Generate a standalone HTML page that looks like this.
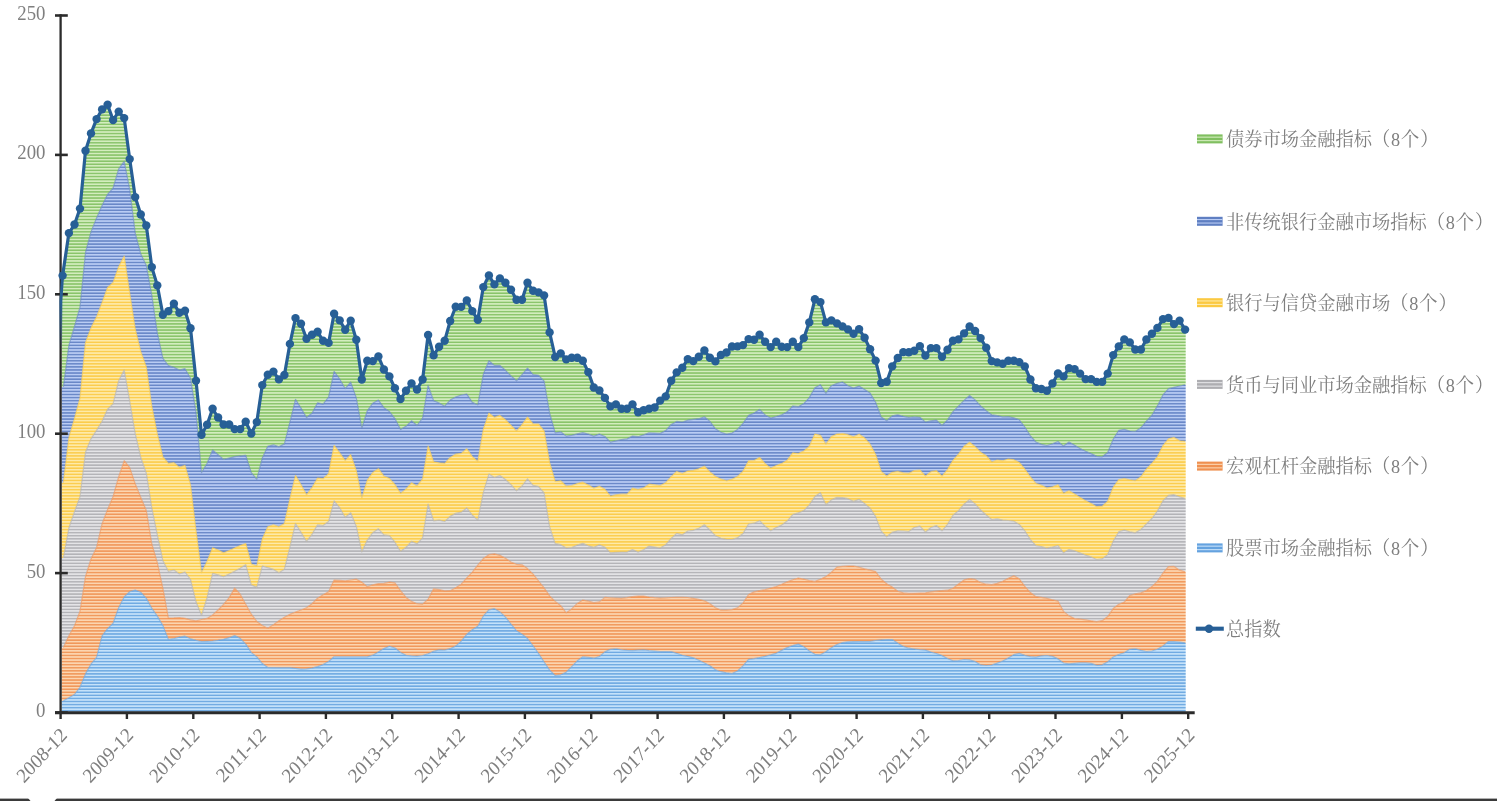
<!DOCTYPE html>
<html lang="zh-CN">
<head>
<meta charset="utf-8">
<title>金融指标总指数</title>
<style>
html,body{margin:0;padding:0;background:#fff;}
body{width:1497px;height:801px;overflow:hidden;position:relative;}
svg{display:block;position:absolute;left:0;top:0;}
.num{font-family:"Liberation Serif","Noto Serif CJK SC",serif;font-size:20.1px;fill:#7f7f7f;}
.xl{font-family:"Liberation Serif","Noto Serif CJK SC",serif;font-size:20.2px;fill:#7f7f7f;}
.lg{font-family:"Liberation Serif","Noto Serif CJK SC",serif;font-size:19.5px;fill:#7f7f7f;}
</style>
</head>
<body>
<svg width="1497" height="801" viewBox="0 0 1497 801">
<defs><pattern id="p-b1" width="8" height="3.07" patternUnits="userSpaceOnUse"><rect width="8" height="3.07" fill="#c5e2fa"/><rect y="0.9" width="8" height="1.32" fill="#64a2df"/></pattern><pattern id="p-or" width="8" height="3.07" patternUnits="userSpaceOnUse"><rect width="8" height="3.07" fill="#fcd5b0"/><rect y="0.9" width="8" height="1.32" fill="#ef9050"/></pattern><pattern id="p-gy" width="8" height="3.07" patternUnits="userSpaceOnUse"><rect width="8" height="3.07" fill="#e4e4e7"/><rect y="0.9" width="8" height="1.32" fill="#adadb1"/></pattern><pattern id="p-yl" width="8" height="3.07" patternUnits="userSpaceOnUse"><rect width="8" height="3.07" fill="#feeaa8"/><rect y="0.9" width="8" height="1.32" fill="#fbc941"/></pattern><pattern id="p-b2" width="8" height="3.07" patternUnits="userSpaceOnUse"><rect width="8" height="3.07" fill="#b9ccf4"/><rect y="0.9" width="8" height="1.32" fill="#5f7fc2"/></pattern><pattern id="p-gr" width="8" height="3.07" patternUnits="userSpaceOnUse"><rect width="8" height="3.07" fill="#d3edbe"/><rect y="0.9" width="8" height="1.32" fill="#80bf60"/></pattern><linearGradient id="leadg" gradientUnits="userSpaceOnUse" x1="0" y1="275" x2="0" y2="350"><stop offset="0" stop-color="#275f96" stop-opacity="1"/><stop offset="0.36" stop-color="#275f96" stop-opacity="1"/><stop offset="1" stop-color="#275f96" stop-opacity="0"/></linearGradient><filter id="soft" x="0" y="0" width="1497" height="801" filterUnits="userSpaceOnUse"><feGaussianBlur stdDeviation="0.5"/></filter></defs>
<rect width="1497" height="801" fill="#fff"/>
<g id="areas" filter="url(#soft)">
<path d="M61.6,700.8 L63.4,700.8 L68.9,697.8 L74.5,694.5 L80,687.3 L85.5,673.9 L91,664.1 L96.6,657.3 L102.1,635.9 L107.6,628.6 L113.1,623.3 L118.7,607.8 L124.2,596.9 L129.7,591.7 L135.2,590.1 L140.8,592.3 L146.3,598.4 L151.8,608.4 L157.3,616.1 L162.9,625.6 L168.4,639.5 L173.9,638.5 L179.4,637.1 L185,636.2 L190.5,638.8 L196,640.3 L201.5,641.5 L207.1,641.3 L212.6,641 L218.1,640.3 L223.6,639.3 L229.2,637.7 L234.7,635.5 L240.2,638.4 L245.7,644.2 L251.3,652.6 L256.8,656.9 L262.3,663.6 L267.8,667.5 L273.4,667.6 L278.9,667.7 L284.4,667.7 L289.9,667.7 L295.5,668.3 L301,669.1 L306.5,668.9 L312,668.2 L317.6,666.6 L323.1,664.6 L328.6,661.5 L334.1,656.8 L339.7,656.8 L345.2,656.8 L350.7,656.8 L356.3,656.8 L361.8,656.8 L367.3,656.8 L372.8,655.2 L378.4,651.9 L383.9,648.6 L389.4,646.3 L394.9,648 L400.5,652.5 L406,655.3 L411.5,655.8 L417,656.1 L422.6,655.5 L428.1,653.7 L433.6,651.4 L439.1,649.9 L444.7,650.2 L450.2,648.7 L455.7,646.1 L461.2,641.2 L466.8,634.3 L472.3,629.8 L477.8,626.2 L483.3,616.2 L488.9,609.9 L494.4,608.7 L499.9,611.9 L505.4,617.1 L511,624.2 L516.5,630.8 L522,634.2 L527.5,638.5 L533.1,646 L538.6,653.6 L544.1,662 L549.6,670.1 L555.2,675.5 L560.7,674.8 L566.2,672.2 L571.7,666.7 L577.3,660.8 L582.8,656.8 L588.3,657.4 L593.8,658.2 L599.4,656.5 L604.9,651.9 L610.4,649.4 L615.9,648.8 L621.5,649.8 L627,650.3 L632.5,650.6 L638.1,650.2 L643.6,649.9 L649.1,650.6 L654.6,651.1 L660.2,651.5 L665.7,651.6 L671.2,651.7 L676.7,653.3 L682.3,655.3 L687.8,656.3 L693.3,657.8 L698.8,660.2 L704.4,663 L709.9,665.8 L715.4,669.8 L720.9,671.7 L726.5,672.8 L732,673.5 L737.5,671 L743,665.9 L748.6,659.3 L754.1,658.7 L759.6,657.5 L765.1,656.3 L770.7,654.9 L776.2,653.3 L781.7,650.4 L787.2,647.6 L792.8,645.6 L798.3,644.1 L803.8,646.8 L809.3,650.9 L814.9,654.3 L820.4,654.8 L825.9,651.7 L831.4,647.7 L837,644.5 L842.5,642.5 L848,641.8 L853.5,641.6 L859.1,641.5 L864.6,641.5 L870.1,641.4 L875.6,640.5 L881.2,639.9 L886.7,639.5 L892.2,639.5 L897.8,643.2 L903.3,646.4 L908.8,648.2 L914.3,649 L919.9,649.7 L925.4,650.1 L930.9,652.1 L936.4,653.5 L942,655.6 L947.5,658.5 L953,660.9 L958.5,660.5 L964.1,659.5 L969.6,659.9 L975.1,661.5 L980.6,664.9 L986.2,665.5 L991.7,665 L997.2,663.1 L1002.7,661 L1008.3,658.1 L1013.8,654.7 L1019.3,653.4 L1024.8,655.4 L1030.4,656.7 L1035.9,657.1 L1041.4,655.9 L1046.9,655.5 L1052.5,656.4 L1058,658.9 L1063.5,663 L1069,663.9 L1074.6,663.3 L1080.1,662.9 L1085.6,662.9 L1091.1,663.4 L1096.7,665.3 L1102.2,664.9 L1107.7,661.9 L1113.2,657 L1118.8,654.5 L1124.3,652.8 L1129.8,649.3 L1135.3,648.8 L1140.9,650.3 L1146.4,651.5 L1151.9,651 L1157.4,649.3 L1163,645.9 L1168.5,641.5 L1174,641.6 L1179.6,642.1 L1185.1,642.8 L1185.7,642.8 L1185.7,712.3 L61.6,712.3 Z" fill="url(#p-b1)"/>
<path d="M61.6,647.4 L63.4,647.4 L68.9,635.7 L74.5,625.8 L80,611.1 L85.5,576.5 L91,559 L96.6,547.4 L102.1,523.7 L107.6,509.5 L113.1,496.5 L118.7,476.6 L124.2,460.7 L129.7,467.6 L135.2,483.7 L140.8,497.4 L146.3,510.6 L151.8,544 L157.3,562.6 L162.9,588.3 L168.4,618.1 L173.9,617.9 L179.4,617.5 L185,618.3 L190.5,619.9 L196,620.8 L201.5,619.5 L207.1,618.4 L212.6,614.9 L218.1,610 L223.6,604.4 L229.2,597.6 L234.7,588.1 L240.2,594.2 L245.7,604.2 L251.3,614.2 L256.8,621.4 L262.3,625.5 L267.8,628.2 L273.4,624.7 L278.9,620.8 L284.4,617.3 L289.9,614.4 L295.5,612 L301,610 L306.5,607.8 L312,603.7 L317.6,598.2 L323.1,594.8 L328.6,591.7 L334.1,580.1 L339.7,580.4 L345.2,580.8 L350.7,580 L356.3,579.2 L361.8,582.1 L367.3,586.8 L372.8,584.8 L378.4,583.7 L383.9,583.4 L389.4,582.1 L394.9,582.9 L400.5,590.7 L406,597.4 L411.5,601.4 L417,603.7 L422.6,604.1 L428.1,599.2 L433.6,588.8 L439.1,589.7 L444.7,590.8 L450.2,590.7 L455.7,587.8 L461.2,584.2 L466.8,577.8 L472.3,572.1 L477.8,565.2 L483.3,558.6 L488.9,554.7 L494.4,553.9 L499.9,555.3 L505.4,558.2 L511,562 L516.5,564.3 L522,564.8 L527.5,568.6 L533.1,574.1 L538.6,581 L544.1,587.9 L549.6,595.8 L555.2,601.4 L560.7,605.7 L566.2,612.8 L571.7,608.9 L577.3,603.4 L582.8,600.1 L588.3,601.2 L593.8,602.7 L599.4,601.9 L604.9,597.4 L610.4,597.8 L615.9,598.1 L621.5,598.3 L627,597.7 L632.5,596.7 L638.1,596.1 L643.6,596.1 L649.1,597 L654.6,597.7 L660.2,598.1 L665.7,597.8 L671.2,597.5 L676.7,597.4 L682.3,597.4 L687.8,597.5 L693.3,598.3 L698.8,599.4 L704.4,600.8 L709.9,603.7 L715.4,607.7 L720.9,610.1 L726.5,610.1 L732,609.6 L737.5,607.9 L743,603.1 L748.6,594.5 L754.1,591.9 L759.6,590.7 L765.1,589.5 L770.7,588.1 L776.2,586.5 L781.7,584.3 L787.2,581.9 L792.8,579.7 L798.3,578 L803.8,579.1 L809.3,580.5 L814.9,581.4 L820.4,579.3 L825.9,576.6 L831.4,572.2 L837,567.1 L842.5,566.4 L848,566 L853.5,566 L859.1,567.2 L864.6,568.9 L870.1,570.2 L875.6,571.6 L881.2,579.2 L886.7,583.8 L892.2,587 L897.8,591.2 L903.3,592.9 L908.8,593.4 L914.3,593.3 L919.9,593 L925.4,592.8 L930.9,591.9 L936.4,591.2 L942,590.7 L947.5,590.2 L953,588.3 L958.5,584.1 L964.1,579.9 L969.6,578.7 L975.1,579.4 L980.6,582.5 L986.2,584.2 L991.7,584.7 L997.2,583.4 L1002.7,581.2 L1008.3,578.4 L1013.8,575.9 L1019.3,578.8 L1024.8,586.3 L1030.4,592.6 L1035.9,596.7 L1041.4,597.4 L1046.9,598.4 L1052.5,599.8 L1058,601.2 L1063.5,611.4 L1069,615.9 L1074.6,618.6 L1080.1,619.2 L1085.6,619.9 L1091.1,620.8 L1096.7,621.7 L1102.2,620.7 L1107.7,616.6 L1113.2,608.6 L1118.8,604.3 L1124.3,602.1 L1129.8,595.5 L1135.3,593.9 L1140.9,592.9 L1146.4,590.5 L1151.9,586.6 L1157.4,581.4 L1163,573 L1168.5,566.7 L1174,566.4 L1179.6,570.2 L1185.1,571.8 L1185.7,571.8 L1185.7,642.8 L1185.1,642.8 L1179.6,642.1 L1174,641.6 L1168.5,641.5 L1163,645.9 L1157.4,649.3 L1151.9,651 L1146.4,651.5 L1140.9,650.3 L1135.3,648.8 L1129.8,649.3 L1124.3,652.8 L1118.8,654.5 L1113.2,657 L1107.7,661.9 L1102.2,664.9 L1096.7,665.3 L1091.1,663.4 L1085.6,662.9 L1080.1,662.9 L1074.6,663.3 L1069,663.9 L1063.5,663 L1058,658.9 L1052.5,656.4 L1046.9,655.5 L1041.4,655.9 L1035.9,657.1 L1030.4,656.7 L1024.8,655.4 L1019.3,653.4 L1013.8,654.7 L1008.3,658.1 L1002.7,661 L997.2,663.1 L991.7,665 L986.2,665.5 L980.6,664.9 L975.1,661.5 L969.6,659.9 L964.1,659.5 L958.5,660.5 L953,660.9 L947.5,658.5 L942,655.6 L936.4,653.5 L930.9,652.1 L925.4,650.1 L919.9,649.7 L914.3,649 L908.8,648.2 L903.3,646.4 L897.8,643.2 L892.2,639.5 L886.7,639.5 L881.2,639.9 L875.6,640.5 L870.1,641.4 L864.6,641.5 L859.1,641.5 L853.5,641.6 L848,641.8 L842.5,642.5 L837,644.5 L831.4,647.7 L825.9,651.7 L820.4,654.8 L814.9,654.3 L809.3,650.9 L803.8,646.8 L798.3,644.1 L792.8,645.6 L787.2,647.6 L781.7,650.4 L776.2,653.3 L770.7,654.9 L765.1,656.3 L759.6,657.5 L754.1,658.7 L748.6,659.3 L743,665.9 L737.5,671 L732,673.5 L726.5,672.8 L720.9,671.7 L715.4,669.8 L709.9,665.8 L704.4,663 L698.8,660.2 L693.3,657.8 L687.8,656.3 L682.3,655.3 L676.7,653.3 L671.2,651.7 L665.7,651.6 L660.2,651.5 L654.6,651.1 L649.1,650.6 L643.6,649.9 L638.1,650.2 L632.5,650.6 L627,650.3 L621.5,649.8 L615.9,648.8 L610.4,649.4 L604.9,651.9 L599.4,656.5 L593.8,658.2 L588.3,657.4 L582.8,656.8 L577.3,660.8 L571.7,666.7 L566.2,672.2 L560.7,674.8 L555.2,675.5 L549.6,670.1 L544.1,662 L538.6,653.6 L533.1,646 L527.5,638.5 L522,634.2 L516.5,630.8 L511,624.2 L505.4,617.1 L499.9,611.9 L494.4,608.7 L488.9,609.9 L483.3,616.2 L477.8,626.2 L472.3,629.8 L466.8,634.3 L461.2,641.2 L455.7,646.1 L450.2,648.7 L444.7,650.2 L439.1,649.9 L433.6,651.4 L428.1,653.7 L422.6,655.5 L417,656.1 L411.5,655.8 L406,655.3 L400.5,652.5 L394.9,648 L389.4,646.3 L383.9,648.6 L378.4,651.9 L372.8,655.2 L367.3,656.8 L361.8,656.8 L356.3,656.8 L350.7,656.8 L345.2,656.8 L339.7,656.8 L334.1,656.8 L328.6,661.5 L323.1,664.6 L317.6,666.6 L312,668.2 L306.5,668.9 L301,669.1 L295.5,668.3 L289.9,667.7 L284.4,667.7 L278.9,667.7 L273.4,667.6 L267.8,667.5 L262.3,663.6 L256.8,656.9 L251.3,652.6 L245.7,644.2 L240.2,638.4 L234.7,635.5 L229.2,637.7 L223.6,639.3 L218.1,640.3 L212.6,641 L207.1,641.3 L201.5,641.5 L196,640.3 L190.5,638.8 L185,636.2 L179.4,637.1 L173.9,638.5 L168.4,639.5 L162.9,625.6 L157.3,616.1 L151.8,608.4 L146.3,598.4 L140.8,592.3 L135.2,590.1 L129.7,591.7 L124.2,596.9 L118.7,607.8 L113.1,623.3 L107.6,628.6 L102.1,635.9 L96.6,657.3 L91,664.1 L85.5,673.9 L80,687.3 L74.5,694.5 L68.9,697.8 L63.4,700.8 L61.6,700.8 Z" fill="url(#p-or)"/>
<path d="M61.6,558 L63.4,558 L68.9,528 L74.5,511.6 L80,496.8 L85.5,452.2 L91,438.8 L96.6,430.4 L102.1,421.3 L107.6,409.2 L113.1,403.9 L118.7,380.7 L124.2,370 L129.7,401.1 L135.2,433.6 L140.8,457.5 L146.3,473.2 L151.8,507.8 L157.3,534.9 L162.9,560.7 L168.4,571.4 L173.9,570 L179.4,574 L185,572 L190.5,579.5 L196,601.8 L201.5,615.5 L207.1,597.7 L212.6,573.4 L218.1,574.9 L223.6,576.7 L229.2,574 L234.7,571.2 L240.2,568.3 L245.7,564.7 L251.3,584.9 L256.8,587.4 L262.3,566.1 L267.8,567.6 L273.4,569.4 L278.9,572.8 L284.4,569.3 L289.9,547.2 L295.5,523.5 L301,532.4 L306.5,541.4 L312,534.4 L317.6,524.8 L323.1,525.5 L328.6,521.6 L334.1,500.8 L339.7,507.8 L345.2,517.5 L350.7,512.8 L356.3,526.4 L361.8,552.1 L367.3,540.1 L372.8,532.7 L378.4,528.8 L383.9,534.9 L389.4,535.7 L394.9,542.2 L400.5,551.4 L406,547.3 L411.5,541.4 L417,543.8 L422.6,537.9 L428.1,504.1 L433.6,520.8 L439.1,520.2 L444.7,521.5 L450.2,516.4 L455.7,513.4 L461.2,512.2 L466.8,508 L472.3,515.2 L477.8,520.1 L483.3,492.7 L488.9,474.1 L494.4,477.5 L499.9,475.5 L505.4,479.5 L511,484.7 L516.5,490.8 L522,486 L527.5,478.8 L533.1,485.4 L538.6,486.6 L544.1,493 L549.6,526.8 L555.2,543.6 L560.7,544.7 L566.2,548.1 L571.7,547.5 L577.3,545.1 L582.8,543.4 L588.3,545.8 L593.8,547.4 L599.4,544.8 L604.9,547.2 L610.4,552.8 L615.9,552.4 L621.5,552.1 L627,552.1 L632.5,549.5 L638.1,552.1 L643.6,549.7 L649.1,546.1 L654.6,547.1 L660.2,548.1 L665.7,544.7 L671.2,538.5 L676.7,533.4 L682.3,534.8 L687.8,531 L693.3,530.3 L698.8,528.3 L704.4,524.8 L709.9,530 L715.4,535.7 L720.9,538.3 L726.5,539.4 L732,539.5 L737.5,537.8 L743,533.6 L748.6,524 L754.1,523.2 L759.6,520.7 L765.1,526.3 L770.7,530.8 L776.2,527.6 L781.7,525.1 L787.2,521.1 L792.8,514.6 L798.3,512.9 L803.8,510.6 L809.3,504.9 L814.9,496.6 L820.4,492.7 L825.9,504.7 L831.4,499.9 L837,497.4 L842.5,497.6 L848,498.7 L853.5,501.4 L859.1,499.4 L864.6,503.6 L870.1,508.2 L875.6,516.6 L881.2,531.1 L886.7,536.8 L892.2,532.3 L897.8,530.8 L903.3,531 L908.8,531.5 L914.3,527.5 L919.9,526.2 L925.4,532.2 L930.9,527.5 L936.4,525.5 L942,530.8 L947.5,524.4 L953,515.2 L958.5,510.7 L964.1,504.2 L969.6,499.4 L975.1,503.9 L980.6,510 L986.2,515 L991.7,519.5 L997.2,518.8 L1002.7,520.2 L1008.3,520.5 L1013.8,521.2 L1019.3,524.4 L1024.8,530.8 L1030.4,539.6 L1035.9,545.6 L1041.4,546.5 L1046.9,548.2 L1052.5,547 L1058,545.5 L1063.5,552.8 L1069,549.5 L1074.6,550.8 L1080.1,553 L1085.6,555.1 L1091.1,557 L1096.7,559.5 L1102.2,558.9 L1107.7,554.6 L1113.2,541.3 L1118.8,531.7 L1124.3,530.1 L1129.8,531.8 L1135.3,532.8 L1140.9,529.4 L1146.4,524 L1151.9,518.5 L1157.4,511.1 L1163,500.8 L1168.5,495.4 L1174,494.7 L1179.6,496.9 L1185.1,498.5 L1185.7,498.5 L1185.7,571.8 L1185.1,571.8 L1179.6,570.2 L1174,566.4 L1168.5,566.7 L1163,573 L1157.4,581.4 L1151.9,586.6 L1146.4,590.5 L1140.9,592.9 L1135.3,593.9 L1129.8,595.5 L1124.3,602.1 L1118.8,604.3 L1113.2,608.6 L1107.7,616.6 L1102.2,620.7 L1096.7,621.7 L1091.1,620.8 L1085.6,619.9 L1080.1,619.2 L1074.6,618.6 L1069,615.9 L1063.5,611.4 L1058,601.2 L1052.5,599.8 L1046.9,598.4 L1041.4,597.4 L1035.9,596.7 L1030.4,592.6 L1024.8,586.3 L1019.3,578.8 L1013.8,575.9 L1008.3,578.4 L1002.7,581.2 L997.2,583.4 L991.7,584.7 L986.2,584.2 L980.6,582.5 L975.1,579.4 L969.6,578.7 L964.1,579.9 L958.5,584.1 L953,588.3 L947.5,590.2 L942,590.7 L936.4,591.2 L930.9,591.9 L925.4,592.8 L919.9,593 L914.3,593.3 L908.8,593.4 L903.3,592.9 L897.8,591.2 L892.2,587 L886.7,583.8 L881.2,579.2 L875.6,571.6 L870.1,570.2 L864.6,568.9 L859.1,567.2 L853.5,566 L848,566 L842.5,566.4 L837,567.1 L831.4,572.2 L825.9,576.6 L820.4,579.3 L814.9,581.4 L809.3,580.5 L803.8,579.1 L798.3,578 L792.8,579.7 L787.2,581.9 L781.7,584.3 L776.2,586.5 L770.7,588.1 L765.1,589.5 L759.6,590.7 L754.1,591.9 L748.6,594.5 L743,603.1 L737.5,607.9 L732,609.6 L726.5,610.1 L720.9,610.1 L715.4,607.7 L709.9,603.7 L704.4,600.8 L698.8,599.4 L693.3,598.3 L687.8,597.5 L682.3,597.4 L676.7,597.4 L671.2,597.5 L665.7,597.8 L660.2,598.1 L654.6,597.7 L649.1,597 L643.6,596.1 L638.1,596.1 L632.5,596.7 L627,597.7 L621.5,598.3 L615.9,598.1 L610.4,597.8 L604.9,597.4 L599.4,601.9 L593.8,602.7 L588.3,601.2 L582.8,600.1 L577.3,603.4 L571.7,608.9 L566.2,612.8 L560.7,605.7 L555.2,601.4 L549.6,595.8 L544.1,587.9 L538.6,581 L533.1,574.1 L527.5,568.6 L522,564.8 L516.5,564.3 L511,562 L505.4,558.2 L499.9,555.3 L494.4,553.9 L488.9,554.7 L483.3,558.6 L477.8,565.2 L472.3,572.1 L466.8,577.8 L461.2,584.2 L455.7,587.8 L450.2,590.7 L444.7,590.8 L439.1,589.7 L433.6,588.8 L428.1,599.2 L422.6,604.1 L417,603.7 L411.5,601.4 L406,597.4 L400.5,590.7 L394.9,582.9 L389.4,582.1 L383.9,583.4 L378.4,583.7 L372.8,584.8 L367.3,586.8 L361.8,582.1 L356.3,579.2 L350.7,580 L345.2,580.8 L339.7,580.4 L334.1,580.1 L328.6,591.7 L323.1,594.8 L317.6,598.2 L312,603.7 L306.5,607.8 L301,610 L295.5,612 L289.9,614.4 L284.4,617.3 L278.9,620.8 L273.4,624.7 L267.8,628.2 L262.3,625.5 L256.8,621.4 L251.3,614.2 L245.7,604.2 L240.2,594.2 L234.7,588.1 L229.2,597.6 L223.6,604.4 L218.1,610 L212.6,614.9 L207.1,618.4 L201.5,619.5 L196,620.8 L190.5,619.9 L185,618.3 L179.4,617.5 L173.9,617.9 L168.4,618.1 L162.9,588.3 L157.3,562.6 L151.8,544 L146.3,510.6 L140.8,497.4 L135.2,483.7 L129.7,467.6 L124.2,460.7 L118.7,476.6 L113.1,496.5 L107.6,509.5 L102.1,523.7 L96.6,547.4 L91,559 L85.5,576.5 L80,611.1 L74.5,625.8 L68.9,635.7 L63.4,647.4 L61.6,647.4 Z" fill="url(#p-gy)"/>
<path d="M61.6,482.8 L63.4,482.8 L68.9,437.7 L74.5,418.4 L80,398.1 L85.5,342.4 L91,328 L96.6,316.8 L102.1,302.4 L107.6,287.5 L113.1,282.4 L118.7,266.8 L124.2,256 L129.7,293 L135.2,328.8 L140.8,351.7 L146.3,367 L151.8,406.3 L157.3,433.9 L162.9,457 L168.4,463.4 L173.9,462.7 L179.4,467.4 L185,465.4 L190.5,484.9 L196,530.7 L201.5,572.7 L207.1,561.2 L212.6,547.8 L218.1,550.1 L223.6,552.9 L229.2,550.5 L234.7,548 L240.2,545.5 L245.7,543.5 L251.3,564 L256.8,566.1 L262.3,539.1 L267.8,526.7 L273.4,524.8 L278.9,526.8 L284.4,523.4 L289.9,498.8 L295.5,475.4 L301,484.7 L306.5,494.8 L312,487.7 L317.6,478.1 L323.1,478.7 L328.6,473.6 L334.1,445.3 L339.7,452.9 L345.2,460.7 L350.7,454.7 L356.3,470.6 L361.8,498.1 L367.3,480.1 L372.8,472.6 L378.4,468.7 L383.9,476.2 L389.4,478.4 L394.9,484.6 L400.5,493.4 L406,489.1 L411.5,482.8 L417,486.1 L422.6,478.9 L428.1,446 L433.6,461.8 L439.1,462.8 L444.7,463.4 L450.2,457.4 L455.7,454.2 L461.2,453.4 L466.8,448.8 L472.3,456.6 L477.8,461.5 L483.3,429.5 L488.9,413.1 L494.4,417.4 L499.9,415.4 L505.4,419.7 L511,425.3 L516.5,431.1 L522,424.7 L527.5,417.1 L533.1,424 L538.6,424.1 L544.1,430.9 L549.6,462.4 L555.2,481.5 L560.7,480.8 L566.2,486.2 L571.7,485.5 L577.3,483.6 L582.8,482.2 L588.3,485.1 L593.8,488.2 L599.4,486.2 L604.9,489.3 L610.4,496.2 L615.9,494.9 L621.5,494.2 L627,494.2 L632.5,488.2 L638.1,489.5 L643.6,487.9 L649.1,484.2 L654.6,484.8 L660.2,485.5 L665.7,482.7 L671.2,476.6 L676.7,471.5 L682.3,473.5 L687.8,471 L693.3,470.4 L698.8,468.8 L704.4,466.2 L709.9,471.9 L715.4,476.5 L720.9,479.1 L726.5,480.8 L732,479.3 L737.5,476.5 L743,471.2 L748.6,460.8 L754.1,460.5 L759.6,457.5 L765.1,463.6 L770.7,468.2 L776.2,465.5 L781.7,463.6 L787.2,460.2 L792.8,452.8 L798.3,453.5 L803.8,451 L809.3,446.3 L814.9,434.1 L820.4,435.3 L825.9,444.2 L831.4,436.5 L837,434.1 L842.5,433.5 L848,434.7 L853.5,436.8 L859.1,434.2 L864.6,438.1 L870.1,444.2 L875.6,454.5 L881.2,471.4 L886.7,476.1 L892.2,472.3 L897.8,471.4 L903.3,472.9 L908.8,473.4 L914.3,470.5 L919.9,470 L925.4,476.1 L930.9,471.7 L936.4,470.7 L942,476.1 L947.5,469.6 L953,460.3 L958.5,454.2 L964.1,446.3 L969.6,442.2 L975.1,446.7 L980.6,452.2 L986.2,455.8 L991.7,462 L997.2,460 L1002.7,460.8 L1008.3,459 L1013.8,459.7 L1019.3,462.5 L1024.8,469.1 L1030.4,477 L1035.9,483.4 L1041.4,485.3 L1046.9,488 L1052.5,486.9 L1058,484.7 L1063.5,493.4 L1069,490.7 L1074.6,493.9 L1080.1,497.5 L1085.6,500.8 L1091.1,503.5 L1096.7,506.7 L1102.2,506.2 L1107.7,501.3 L1113.2,487.3 L1118.8,479.5 L1124.3,478.7 L1129.8,479.8 L1135.3,480.7 L1140.9,476.8 L1146.4,469.1 L1151.9,463.3 L1157.4,456.8 L1163,445.6 L1168.5,438.8 L1174,437.4 L1179.6,440.8 L1185.1,441.4 L1185.7,441.4 L1185.7,498.5 L1185.1,498.5 L1179.6,496.9 L1174,494.7 L1168.5,495.4 L1163,500.8 L1157.4,511.1 L1151.9,518.5 L1146.4,524 L1140.9,529.4 L1135.3,532.8 L1129.8,531.8 L1124.3,530.1 L1118.8,531.7 L1113.2,541.3 L1107.7,554.6 L1102.2,558.9 L1096.7,559.5 L1091.1,557 L1085.6,555.1 L1080.1,553 L1074.6,550.8 L1069,549.5 L1063.5,552.8 L1058,545.5 L1052.5,547 L1046.9,548.2 L1041.4,546.5 L1035.9,545.6 L1030.4,539.6 L1024.8,530.8 L1019.3,524.4 L1013.8,521.2 L1008.3,520.5 L1002.7,520.2 L997.2,518.8 L991.7,519.5 L986.2,515 L980.6,510 L975.1,503.9 L969.6,499.4 L964.1,504.2 L958.5,510.7 L953,515.2 L947.5,524.4 L942,530.8 L936.4,525.5 L930.9,527.5 L925.4,532.2 L919.9,526.2 L914.3,527.5 L908.8,531.5 L903.3,531 L897.8,530.8 L892.2,532.3 L886.7,536.8 L881.2,531.1 L875.6,516.6 L870.1,508.2 L864.6,503.6 L859.1,499.4 L853.5,501.4 L848,498.7 L842.5,497.6 L837,497.4 L831.4,499.9 L825.9,504.7 L820.4,492.7 L814.9,496.6 L809.3,504.9 L803.8,510.6 L798.3,512.9 L792.8,514.6 L787.2,521.1 L781.7,525.1 L776.2,527.6 L770.7,530.8 L765.1,526.3 L759.6,520.7 L754.1,523.2 L748.6,524 L743,533.6 L737.5,537.8 L732,539.5 L726.5,539.4 L720.9,538.3 L715.4,535.7 L709.9,530 L704.4,524.8 L698.8,528.3 L693.3,530.3 L687.8,531 L682.3,534.8 L676.7,533.4 L671.2,538.5 L665.7,544.7 L660.2,548.1 L654.6,547.1 L649.1,546.1 L643.6,549.7 L638.1,552.1 L632.5,549.5 L627,552.1 L621.5,552.1 L615.9,552.4 L610.4,552.8 L604.9,547.2 L599.4,544.8 L593.8,547.4 L588.3,545.8 L582.8,543.4 L577.3,545.1 L571.7,547.5 L566.2,548.1 L560.7,544.7 L555.2,543.6 L549.6,526.8 L544.1,493 L538.6,486.6 L533.1,485.4 L527.5,478.8 L522,486 L516.5,490.8 L511,484.7 L505.4,479.5 L499.9,475.5 L494.4,477.5 L488.9,474.1 L483.3,492.7 L477.8,520.1 L472.3,515.2 L466.8,508 L461.2,512.2 L455.7,513.4 L450.2,516.4 L444.7,521.5 L439.1,520.2 L433.6,520.8 L428.1,504.1 L422.6,537.9 L417,543.8 L411.5,541.4 L406,547.3 L400.5,551.4 L394.9,542.2 L389.4,535.7 L383.9,534.9 L378.4,528.8 L372.8,532.7 L367.3,540.1 L361.8,552.1 L356.3,526.4 L350.7,512.8 L345.2,517.5 L339.7,507.8 L334.1,500.8 L328.6,521.6 L323.1,525.5 L317.6,524.8 L312,534.4 L306.5,541.4 L301,532.4 L295.5,523.5 L289.9,547.2 L284.4,569.3 L278.9,572.8 L273.4,569.4 L267.8,567.6 L262.3,566.1 L256.8,587.4 L251.3,584.9 L245.7,564.7 L240.2,568.3 L234.7,571.2 L229.2,574 L223.6,576.7 L218.1,574.9 L212.6,573.4 L207.1,597.7 L201.5,615.5 L196,601.8 L190.5,579.5 L185,572 L179.4,574 L173.9,570 L168.4,571.4 L162.9,560.7 L157.3,534.9 L151.8,507.8 L146.3,473.2 L140.8,457.5 L135.2,433.6 L129.7,401.1 L124.2,370 L118.7,380.7 L113.1,403.9 L107.6,409.2 L102.1,421.3 L96.6,430.4 L91,438.8 L85.5,452.2 L80,496.8 L74.5,511.6 L68.9,528 L63.4,558 L61.6,558 Z" fill="url(#p-yl)"/>
<path d="M61.6,386.9 L63.4,386.9 L68.9,345.3 L74.5,326.4 L80,307.1 L85.5,252.5 L91,231.9 L96.6,217.9 L102.1,205.4 L107.6,194.3 L113.1,188 L118.7,168.9 L124.2,161.4 L129.7,189.4 L135.2,233 L140.8,254.1 L146.3,265.6 L151.8,295.4 L157.3,332.8 L162.9,358.4 L168.4,365.5 L173.9,367.4 L179.4,370 L185,368.7 L190.5,378.2 L196,412.6 L201.5,472.7 L207.1,463.2 L212.6,450 L218.1,454.7 L223.6,459.4 L229.2,458.1 L234.7,456.7 L240.2,455.9 L245.7,455.3 L251.3,472.7 L256.8,479.4 L262.3,458 L267.8,446.3 L273.4,444.8 L278.9,446.8 L284.4,443.9 L289.9,422.1 L295.5,399.4 L301,408.1 L306.5,417.5 L312,413.3 L317.6,402.8 L323.1,404.1 L328.6,397 L334.1,371.4 L339.7,379 L345.2,388.7 L350.7,382.1 L356.3,397.9 L361.8,428.2 L367.3,410.8 L372.8,403.2 L378.4,400.1 L383.9,407.7 L389.4,411.5 L394.9,418.6 L400.5,429.5 L406,426.3 L411.5,420.8 L417,425.5 L422.6,418 L428.1,385.4 L433.6,400.6 L439.1,403 L444.7,406.2 L450.2,400.1 L455.7,397 L461.2,395 L466.8,394.1 L472.3,402.4 L477.8,404.8 L483.3,374.3 L488.9,360.7 L494.4,365.4 L499.9,365.4 L505.4,370.3 L511,375.9 L516.5,380.8 L522,374.7 L527.5,368.1 L533.1,374.6 L538.6,375.3 L544.1,381.2 L549.6,413 L555.2,432.8 L560.7,431.8 L566.2,436.1 L571.7,435.4 L577.3,433.9 L582.8,432.7 L588.3,434.1 L593.8,436.1 L599.4,434.1 L604.9,436.5 L610.4,442.1 L615.9,440.8 L621.5,439.7 L627,438.9 L632.5,436.1 L638.1,436.7 L643.6,434.9 L649.1,432.8 L654.6,433.1 L660.2,433.4 L665.7,430.6 L671.2,424.5 L676.7,421.4 L682.3,422.1 L687.8,420.2 L693.3,419.4 L698.8,418.7 L704.4,416.7 L709.9,421.4 L715.4,428.8 L720.9,432.3 L726.5,434.1 L732,433.1 L737.5,429.4 L743,423.3 L748.6,415.4 L754.1,413.1 L759.6,409.4 L765.1,414.9 L770.7,418.1 L776.2,416.5 L781.7,414.8 L787.2,411.8 L792.8,406 L798.3,406.7 L803.8,403.6 L809.3,397.6 L814.9,387.8 L820.4,384.7 L825.9,393.4 L831.4,385.7 L837,383.4 L842.5,382 L848,385.8 L853.5,388.1 L859.1,386.1 L864.6,389.4 L870.1,393.1 L875.6,402.3 L881.2,417 L886.7,420.8 L892.2,415.9 L897.8,414.8 L903.3,416.3 L908.8,417.4 L914.3,416.8 L919.9,417.3 L925.4,422.1 L930.9,420.9 L936.4,420.1 L942,425.5 L947.5,419.8 L953,411.7 L958.5,406.2 L964.1,400.4 L969.6,395.4 L975.1,399.9 L980.6,405.9 L986.2,410.7 L991.7,414.8 L997.2,415.7 L1002.7,416.8 L1008.3,416.7 L1013.8,417.9 L1019.3,419.8 L1024.8,427 L1030.4,435.9 L1035.9,442 L1041.4,444.4 L1046.9,445.5 L1052.5,443.8 L1058,441.5 L1063.5,446.1 L1069,442.1 L1074.6,445.3 L1080.1,448.5 L1085.6,451.3 L1091.1,453.6 L1096.7,456.4 L1102.2,456.8 L1107.7,452.6 L1113.2,439.3 L1118.8,430.3 L1124.3,429.4 L1129.8,431.1 L1135.3,431.4 L1140.9,427.8 L1146.4,421.2 L1151.9,415.2 L1157.4,405.9 L1163,394.8 L1168.5,388.7 L1174,387.3 L1179.6,386 L1185.1,384.8 L1185.7,384.8 L1185.7,441.4 L1185.1,441.4 L1179.6,440.8 L1174,437.4 L1168.5,438.8 L1163,445.6 L1157.4,456.8 L1151.9,463.3 L1146.4,469.1 L1140.9,476.8 L1135.3,480.7 L1129.8,479.8 L1124.3,478.7 L1118.8,479.5 L1113.2,487.3 L1107.7,501.3 L1102.2,506.2 L1096.7,506.7 L1091.1,503.5 L1085.6,500.8 L1080.1,497.5 L1074.6,493.9 L1069,490.7 L1063.5,493.4 L1058,484.7 L1052.5,486.9 L1046.9,488 L1041.4,485.3 L1035.9,483.4 L1030.4,477 L1024.8,469.1 L1019.3,462.5 L1013.8,459.7 L1008.3,459 L1002.7,460.8 L997.2,460 L991.7,462 L986.2,455.8 L980.6,452.2 L975.1,446.7 L969.6,442.2 L964.1,446.3 L958.5,454.2 L953,460.3 L947.5,469.6 L942,476.1 L936.4,470.7 L930.9,471.7 L925.4,476.1 L919.9,470 L914.3,470.5 L908.8,473.4 L903.3,472.9 L897.8,471.4 L892.2,472.3 L886.7,476.1 L881.2,471.4 L875.6,454.5 L870.1,444.2 L864.6,438.1 L859.1,434.2 L853.5,436.8 L848,434.7 L842.5,433.5 L837,434.1 L831.4,436.5 L825.9,444.2 L820.4,435.3 L814.9,434.1 L809.3,446.3 L803.8,451 L798.3,453.5 L792.8,452.8 L787.2,460.2 L781.7,463.6 L776.2,465.5 L770.7,468.2 L765.1,463.6 L759.6,457.5 L754.1,460.5 L748.6,460.8 L743,471.2 L737.5,476.5 L732,479.3 L726.5,480.8 L720.9,479.1 L715.4,476.5 L709.9,471.9 L704.4,466.2 L698.8,468.8 L693.3,470.4 L687.8,471 L682.3,473.5 L676.7,471.5 L671.2,476.6 L665.7,482.7 L660.2,485.5 L654.6,484.8 L649.1,484.2 L643.6,487.9 L638.1,489.5 L632.5,488.2 L627,494.2 L621.5,494.2 L615.9,494.9 L610.4,496.2 L604.9,489.3 L599.4,486.2 L593.8,488.2 L588.3,485.1 L582.8,482.2 L577.3,483.6 L571.7,485.5 L566.2,486.2 L560.7,480.8 L555.2,481.5 L549.6,462.4 L544.1,430.9 L538.6,424.1 L533.1,424 L527.5,417.1 L522,424.7 L516.5,431.1 L511,425.3 L505.4,419.7 L499.9,415.4 L494.4,417.4 L488.9,413.1 L483.3,429.5 L477.8,461.5 L472.3,456.6 L466.8,448.8 L461.2,453.4 L455.7,454.2 L450.2,457.4 L444.7,463.4 L439.1,462.8 L433.6,461.8 L428.1,446 L422.6,478.9 L417,486.1 L411.5,482.8 L406,489.1 L400.5,493.4 L394.9,484.6 L389.4,478.4 L383.9,476.2 L378.4,468.7 L372.8,472.6 L367.3,480.1 L361.8,498.1 L356.3,470.6 L350.7,454.7 L345.2,460.7 L339.7,452.9 L334.1,445.3 L328.6,473.6 L323.1,478.7 L317.6,478.1 L312,487.7 L306.5,494.8 L301,484.7 L295.5,475.4 L289.9,498.8 L284.4,523.4 L278.9,526.8 L273.4,524.8 L267.8,526.7 L262.3,539.1 L256.8,566.1 L251.3,564 L245.7,543.5 L240.2,545.5 L234.7,548 L229.2,550.5 L223.6,552.9 L218.1,550.1 L212.6,547.8 L207.1,561.2 L201.5,572.7 L196,530.7 L190.5,484.9 L185,465.4 L179.4,467.4 L173.9,462.7 L168.4,463.4 L162.9,457 L157.3,433.9 L151.8,406.3 L146.3,367 L140.8,351.7 L135.2,328.8 L129.7,293 L124.2,256 L118.7,266.8 L113.1,282.4 L107.6,287.5 L102.1,302.4 L96.6,316.8 L91,328 L85.5,342.4 L80,398.1 L74.5,418.4 L68.9,437.7 L63.4,482.8 L61.6,482.8 Z" fill="url(#p-b2)"/>
<path d="M61.6,275.6 L63.4,275.6 L68.9,233.1 L74.5,224.5 L80,208.6 L85.5,150.7 L91,133.4 L96.6,119.1 L102.1,109.4 L107.6,104.7 L113.1,120.1 L118.7,111.6 L124.2,118.1 L129.7,159.1 L135.2,197.1 L140.8,214.5 L146.3,225.5 L151.8,267.1 L157.3,285.4 L162.9,314.8 L168.4,311.1 L173.9,303.7 L179.4,312.8 L185,310.8 L190.5,328.2 L196,380.7 L201.5,434.8 L207.1,424.8 L212.6,408.8 L218.1,417.5 L223.6,424.5 L229.2,424.5 L234.7,429.1 L240.2,429.1 L245.7,421.7 L251.3,433.5 L256.8,422.1 L262.3,385.1 L267.8,374.7 L273.4,371.6 L278.9,379.4 L284.4,375 L289.9,343.9 L295.5,318.1 L301,323.7 L306.5,338.8 L312,334.8 L317.6,331.8 L323.1,340.8 L328.6,342.9 L334.1,313.8 L339.7,320.4 L345.2,329.7 L350.7,320.7 L356.3,339.7 L361.8,379.5 L367.3,360.8 L372.8,361.1 L378.4,356.4 L383.9,369.5 L389.4,376.4 L394.9,388.2 L400.5,399.1 L406,390.8 L411.5,383.5 L417,389.5 L422.6,379.5 L428.1,335 L433.6,355.4 L439.1,346.8 L444.7,340.7 L450.2,321 L455.7,306.7 L461.2,306.9 L466.8,300.5 L472.3,311.1 L477.8,319.7 L483.3,287.1 L488.9,275.5 L494.4,284.4 L499.9,278.4 L505.4,282.8 L511,289.8 L516.5,299.8 L522,299.8 L527.5,282.8 L533.1,290.8 L538.6,292.4 L544.1,295.4 L549.6,332.4 L555.2,357 L560.7,353.4 L566.2,359.4 L571.7,357.8 L577.3,357.8 L582.8,360.7 L588.3,372.1 L593.8,387.5 L599.4,390.5 L604.9,397.9 L610.4,406.4 L615.9,404.4 L621.5,408.8 L627,408.8 L632.5,404.4 L638.1,412.2 L643.6,410.2 L649.1,408.8 L654.6,407.5 L660.2,400.6 L665.7,396.4 L671.2,380.8 L676.7,372.4 L682.3,367.8 L687.8,359.1 L693.3,361.1 L698.8,356.7 L704.4,350.5 L709.9,357.8 L715.4,361.4 L720.9,355 L726.5,352.5 L732,346.5 L737.5,346.4 L743,345.1 L748.6,339.1 L754.1,339.8 L759.6,334.7 L765.1,341.8 L770.7,347.1 L776.2,341.8 L781.7,346.7 L787.2,347.1 L792.8,341.8 L798.3,347.1 L803.8,338.1 L809.3,322.4 L814.9,299.3 L820.4,302.1 L825.9,322.4 L831.4,320.4 L837,323.4 L842.5,326.4 L848,329.4 L853.5,333.8 L859.1,329.1 L864.6,337.8 L870.1,349.3 L875.6,360.6 L881.2,383 L886.7,381.7 L892.2,366.4 L897.8,358 L903.3,352.1 L908.8,352.3 L914.3,350.8 L919.9,346.1 L925.4,355.5 L930.9,348.1 L936.4,348.1 L942,356.8 L947.5,349.7 L953,340.7 L958.5,339.4 L964.1,333.4 L969.6,326.5 L975.1,331 L980.6,338.1 L986.2,347.7 L991.7,361.1 L997.2,362.4 L1002.7,363.7 L1008.3,360.8 L1013.8,360.8 L1019.3,362.1 L1024.8,366.4 L1030.4,379.5 L1035.9,388.2 L1041.4,389 L1046.9,390.7 L1052.5,383.5 L1058,373.5 L1063.5,376.4 L1069,368.1 L1074.6,369.1 L1080.1,373.6 L1085.6,379.1 L1091.1,379.1 L1096.7,381.9 L1102.2,381.9 L1107.7,373.6 L1113.2,355.1 L1118.8,346.4 L1124.3,339.4 L1129.8,342.4 L1135.3,349.5 L1140.9,349.5 L1146.4,339.5 L1151.9,333.8 L1157.4,327.9 L1163,319.1 L1168.5,317.9 L1174,324.1 L1179.6,320.6 L1185.1,329.6 L1185.7,329.6 L1185.7,384.8 L1185.1,384.8 L1179.6,386 L1174,387.3 L1168.5,388.7 L1163,394.8 L1157.4,405.9 L1151.9,415.2 L1146.4,421.2 L1140.9,427.8 L1135.3,431.4 L1129.8,431.1 L1124.3,429.4 L1118.8,430.3 L1113.2,439.3 L1107.7,452.6 L1102.2,456.8 L1096.7,456.4 L1091.1,453.6 L1085.6,451.3 L1080.1,448.5 L1074.6,445.3 L1069,442.1 L1063.5,446.1 L1058,441.5 L1052.5,443.8 L1046.9,445.5 L1041.4,444.4 L1035.9,442 L1030.4,435.9 L1024.8,427 L1019.3,419.8 L1013.8,417.9 L1008.3,416.7 L1002.7,416.8 L997.2,415.7 L991.7,414.8 L986.2,410.7 L980.6,405.9 L975.1,399.9 L969.6,395.4 L964.1,400.4 L958.5,406.2 L953,411.7 L947.5,419.8 L942,425.5 L936.4,420.1 L930.9,420.9 L925.4,422.1 L919.9,417.3 L914.3,416.8 L908.8,417.4 L903.3,416.3 L897.8,414.8 L892.2,415.9 L886.7,420.8 L881.2,417 L875.6,402.3 L870.1,393.1 L864.6,389.4 L859.1,386.1 L853.5,388.1 L848,385.8 L842.5,382 L837,383.4 L831.4,385.7 L825.9,393.4 L820.4,384.7 L814.9,387.8 L809.3,397.6 L803.8,403.6 L798.3,406.7 L792.8,406 L787.2,411.8 L781.7,414.8 L776.2,416.5 L770.7,418.1 L765.1,414.9 L759.6,409.4 L754.1,413.1 L748.6,415.4 L743,423.3 L737.5,429.4 L732,433.1 L726.5,434.1 L720.9,432.3 L715.4,428.8 L709.9,421.4 L704.4,416.7 L698.8,418.7 L693.3,419.4 L687.8,420.2 L682.3,422.1 L676.7,421.4 L671.2,424.5 L665.7,430.6 L660.2,433.4 L654.6,433.1 L649.1,432.8 L643.6,434.9 L638.1,436.7 L632.5,436.1 L627,438.9 L621.5,439.7 L615.9,440.8 L610.4,442.1 L604.9,436.5 L599.4,434.1 L593.8,436.1 L588.3,434.1 L582.8,432.7 L577.3,433.9 L571.7,435.4 L566.2,436.1 L560.7,431.8 L555.2,432.8 L549.6,413 L544.1,381.2 L538.6,375.3 L533.1,374.6 L527.5,368.1 L522,374.7 L516.5,380.8 L511,375.9 L505.4,370.3 L499.9,365.4 L494.4,365.4 L488.9,360.7 L483.3,374.3 L477.8,404.8 L472.3,402.4 L466.8,394.1 L461.2,395 L455.7,397 L450.2,400.1 L444.7,406.2 L439.1,403 L433.6,400.6 L428.1,385.4 L422.6,418 L417,425.5 L411.5,420.8 L406,426.3 L400.5,429.5 L394.9,418.6 L389.4,411.5 L383.9,407.7 L378.4,400.1 L372.8,403.2 L367.3,410.8 L361.8,428.2 L356.3,397.9 L350.7,382.1 L345.2,388.7 L339.7,379 L334.1,371.4 L328.6,397 L323.1,404.1 L317.6,402.8 L312,413.3 L306.5,417.5 L301,408.1 L295.5,399.4 L289.9,422.1 L284.4,443.9 L278.9,446.8 L273.4,444.8 L267.8,446.3 L262.3,458 L256.8,479.4 L251.3,472.7 L245.7,455.3 L240.2,455.9 L234.7,456.7 L229.2,458.1 L223.6,459.4 L218.1,454.7 L212.6,450 L207.1,463.2 L201.5,472.7 L196,412.6 L190.5,378.2 L185,368.7 L179.4,370 L173.9,367.4 L168.4,365.5 L162.9,358.4 L157.3,332.8 L151.8,295.4 L146.3,265.6 L140.8,254.1 L135.2,233 L129.7,189.4 L124.2,161.4 L118.7,168.9 L113.1,188 L107.6,194.3 L102.1,205.4 L96.6,217.9 L91,231.9 L85.5,252.5 L80,307.1 L74.5,326.4 L68.9,345.3 L63.4,386.9 L61.6,386.9 Z" fill="url(#p-gr)"/>
<polyline fill="none" stroke="#64a2df" stroke-width="1.2" stroke-opacity="0.6" stroke-linejoin="round" points="63.4,700.8 68.9,697.8 74.5,694.5 80,687.3 85.5,673.9 91,664.1 96.6,657.3 102.1,635.9 107.6,628.6 113.1,623.3 118.7,607.8 124.2,596.9 129.7,591.7 135.2,590.1 140.8,592.3 146.3,598.4 151.8,608.4 157.3,616.1 162.9,625.6 168.4,639.5 173.9,638.5 179.4,637.1 185,636.2 190.5,638.8 196,640.3 201.5,641.5 207.1,641.3 212.6,641 218.1,640.3 223.6,639.3 229.2,637.7 234.7,635.5 240.2,638.4 245.7,644.2 251.3,652.6 256.8,656.9 262.3,663.6 267.8,667.5 273.4,667.6 278.9,667.7 284.4,667.7 289.9,667.7 295.5,668.3 301,669.1 306.5,668.9 312,668.2 317.6,666.6 323.1,664.6 328.6,661.5 334.1,656.8 339.7,656.8 345.2,656.8 350.7,656.8 356.3,656.8 361.8,656.8 367.3,656.8 372.8,655.2 378.4,651.9 383.9,648.6 389.4,646.3 394.9,648 400.5,652.5 406,655.3 411.5,655.8 417,656.1 422.6,655.5 428.1,653.7 433.6,651.4 439.1,649.9 444.7,650.2 450.2,648.7 455.7,646.1 461.2,641.2 466.8,634.3 472.3,629.8 477.8,626.2 483.3,616.2 488.9,609.9 494.4,608.7 499.9,611.9 505.4,617.1 511,624.2 516.5,630.8 522,634.2 527.5,638.5 533.1,646 538.6,653.6 544.1,662 549.6,670.1 555.2,675.5 560.7,674.8 566.2,672.2 571.7,666.7 577.3,660.8 582.8,656.8 588.3,657.4 593.8,658.2 599.4,656.5 604.9,651.9 610.4,649.4 615.9,648.8 621.5,649.8 627,650.3 632.5,650.6 638.1,650.2 643.6,649.9 649.1,650.6 654.6,651.1 660.2,651.5 665.7,651.6 671.2,651.7 676.7,653.3 682.3,655.3 687.8,656.3 693.3,657.8 698.8,660.2 704.4,663 709.9,665.8 715.4,669.8 720.9,671.7 726.5,672.8 732,673.5 737.5,671 743,665.9 748.6,659.3 754.1,658.7 759.6,657.5 765.1,656.3 770.7,654.9 776.2,653.3 781.7,650.4 787.2,647.6 792.8,645.6 798.3,644.1 803.8,646.8 809.3,650.9 814.9,654.3 820.4,654.8 825.9,651.7 831.4,647.7 837,644.5 842.5,642.5 848,641.8 853.5,641.6 859.1,641.5 864.6,641.5 870.1,641.4 875.6,640.5 881.2,639.9 886.7,639.5 892.2,639.5 897.8,643.2 903.3,646.4 908.8,648.2 914.3,649 919.9,649.7 925.4,650.1 930.9,652.1 936.4,653.5 942,655.6 947.5,658.5 953,660.9 958.5,660.5 964.1,659.5 969.6,659.9 975.1,661.5 980.6,664.9 986.2,665.5 991.7,665 997.2,663.1 1002.7,661 1008.3,658.1 1013.8,654.7 1019.3,653.4 1024.8,655.4 1030.4,656.7 1035.9,657.1 1041.4,655.9 1046.9,655.5 1052.5,656.4 1058,658.9 1063.5,663 1069,663.9 1074.6,663.3 1080.1,662.9 1085.6,662.9 1091.1,663.4 1096.7,665.3 1102.2,664.9 1107.7,661.9 1113.2,657 1118.8,654.5 1124.3,652.8 1129.8,649.3 1135.3,648.8 1140.9,650.3 1146.4,651.5 1151.9,651 1157.4,649.3 1163,645.9 1168.5,641.5 1174,641.6 1179.6,642.1 1185.1,642.8"/>
<polyline fill="none" stroke="#ef9050" stroke-width="1.2" stroke-opacity="0.6" stroke-linejoin="round" points="63.4,647.4 68.9,635.7 74.5,625.8 80,611.1 85.5,576.5 91,559 96.6,547.4 102.1,523.7 107.6,509.5 113.1,496.5 118.7,476.6 124.2,460.7 129.7,467.6 135.2,483.7 140.8,497.4 146.3,510.6 151.8,544 157.3,562.6 162.9,588.3 168.4,618.1 173.9,617.9 179.4,617.5 185,618.3 190.5,619.9 196,620.8 201.5,619.5 207.1,618.4 212.6,614.9 218.1,610 223.6,604.4 229.2,597.6 234.7,588.1 240.2,594.2 245.7,604.2 251.3,614.2 256.8,621.4 262.3,625.5 267.8,628.2 273.4,624.7 278.9,620.8 284.4,617.3 289.9,614.4 295.5,612 301,610 306.5,607.8 312,603.7 317.6,598.2 323.1,594.8 328.6,591.7 334.1,580.1 339.7,580.4 345.2,580.8 350.7,580 356.3,579.2 361.8,582.1 367.3,586.8 372.8,584.8 378.4,583.7 383.9,583.4 389.4,582.1 394.9,582.9 400.5,590.7 406,597.4 411.5,601.4 417,603.7 422.6,604.1 428.1,599.2 433.6,588.8 439.1,589.7 444.7,590.8 450.2,590.7 455.7,587.8 461.2,584.2 466.8,577.8 472.3,572.1 477.8,565.2 483.3,558.6 488.9,554.7 494.4,553.9 499.9,555.3 505.4,558.2 511,562 516.5,564.3 522,564.8 527.5,568.6 533.1,574.1 538.6,581 544.1,587.9 549.6,595.8 555.2,601.4 560.7,605.7 566.2,612.8 571.7,608.9 577.3,603.4 582.8,600.1 588.3,601.2 593.8,602.7 599.4,601.9 604.9,597.4 610.4,597.8 615.9,598.1 621.5,598.3 627,597.7 632.5,596.7 638.1,596.1 643.6,596.1 649.1,597 654.6,597.7 660.2,598.1 665.7,597.8 671.2,597.5 676.7,597.4 682.3,597.4 687.8,597.5 693.3,598.3 698.8,599.4 704.4,600.8 709.9,603.7 715.4,607.7 720.9,610.1 726.5,610.1 732,609.6 737.5,607.9 743,603.1 748.6,594.5 754.1,591.9 759.6,590.7 765.1,589.5 770.7,588.1 776.2,586.5 781.7,584.3 787.2,581.9 792.8,579.7 798.3,578 803.8,579.1 809.3,580.5 814.9,581.4 820.4,579.3 825.9,576.6 831.4,572.2 837,567.1 842.5,566.4 848,566 853.5,566 859.1,567.2 864.6,568.9 870.1,570.2 875.6,571.6 881.2,579.2 886.7,583.8 892.2,587 897.8,591.2 903.3,592.9 908.8,593.4 914.3,593.3 919.9,593 925.4,592.8 930.9,591.9 936.4,591.2 942,590.7 947.5,590.2 953,588.3 958.5,584.1 964.1,579.9 969.6,578.7 975.1,579.4 980.6,582.5 986.2,584.2 991.7,584.7 997.2,583.4 1002.7,581.2 1008.3,578.4 1013.8,575.9 1019.3,578.8 1024.8,586.3 1030.4,592.6 1035.9,596.7 1041.4,597.4 1046.9,598.4 1052.5,599.8 1058,601.2 1063.5,611.4 1069,615.9 1074.6,618.6 1080.1,619.2 1085.6,619.9 1091.1,620.8 1096.7,621.7 1102.2,620.7 1107.7,616.6 1113.2,608.6 1118.8,604.3 1124.3,602.1 1129.8,595.5 1135.3,593.9 1140.9,592.9 1146.4,590.5 1151.9,586.6 1157.4,581.4 1163,573 1168.5,566.7 1174,566.4 1179.6,570.2 1185.1,571.8"/>
<polyline fill="none" stroke="#adadb1" stroke-width="1.2" stroke-opacity="0.6" stroke-linejoin="round" points="63.4,558 68.9,528 74.5,511.6 80,496.8 85.5,452.2 91,438.8 96.6,430.4 102.1,421.3 107.6,409.2 113.1,403.9 118.7,380.7 124.2,370 129.7,401.1 135.2,433.6 140.8,457.5 146.3,473.2 151.8,507.8 157.3,534.9 162.9,560.7 168.4,571.4 173.9,570 179.4,574 185,572 190.5,579.5 196,601.8 201.5,615.5 207.1,597.7 212.6,573.4 218.1,574.9 223.6,576.7 229.2,574 234.7,571.2 240.2,568.3 245.7,564.7 251.3,584.9 256.8,587.4 262.3,566.1 267.8,567.6 273.4,569.4 278.9,572.8 284.4,569.3 289.9,547.2 295.5,523.5 301,532.4 306.5,541.4 312,534.4 317.6,524.8 323.1,525.5 328.6,521.6 334.1,500.8 339.7,507.8 345.2,517.5 350.7,512.8 356.3,526.4 361.8,552.1 367.3,540.1 372.8,532.7 378.4,528.8 383.9,534.9 389.4,535.7 394.9,542.2 400.5,551.4 406,547.3 411.5,541.4 417,543.8 422.6,537.9 428.1,504.1 433.6,520.8 439.1,520.2 444.7,521.5 450.2,516.4 455.7,513.4 461.2,512.2 466.8,508 472.3,515.2 477.8,520.1 483.3,492.7 488.9,474.1 494.4,477.5 499.9,475.5 505.4,479.5 511,484.7 516.5,490.8 522,486 527.5,478.8 533.1,485.4 538.6,486.6 544.1,493 549.6,526.8 555.2,543.6 560.7,544.7 566.2,548.1 571.7,547.5 577.3,545.1 582.8,543.4 588.3,545.8 593.8,547.4 599.4,544.8 604.9,547.2 610.4,552.8 615.9,552.4 621.5,552.1 627,552.1 632.5,549.5 638.1,552.1 643.6,549.7 649.1,546.1 654.6,547.1 660.2,548.1 665.7,544.7 671.2,538.5 676.7,533.4 682.3,534.8 687.8,531 693.3,530.3 698.8,528.3 704.4,524.8 709.9,530 715.4,535.7 720.9,538.3 726.5,539.4 732,539.5 737.5,537.8 743,533.6 748.6,524 754.1,523.2 759.6,520.7 765.1,526.3 770.7,530.8 776.2,527.6 781.7,525.1 787.2,521.1 792.8,514.6 798.3,512.9 803.8,510.6 809.3,504.9 814.9,496.6 820.4,492.7 825.9,504.7 831.4,499.9 837,497.4 842.5,497.6 848,498.7 853.5,501.4 859.1,499.4 864.6,503.6 870.1,508.2 875.6,516.6 881.2,531.1 886.7,536.8 892.2,532.3 897.8,530.8 903.3,531 908.8,531.5 914.3,527.5 919.9,526.2 925.4,532.2 930.9,527.5 936.4,525.5 942,530.8 947.5,524.4 953,515.2 958.5,510.7 964.1,504.2 969.6,499.4 975.1,503.9 980.6,510 986.2,515 991.7,519.5 997.2,518.8 1002.7,520.2 1008.3,520.5 1013.8,521.2 1019.3,524.4 1024.8,530.8 1030.4,539.6 1035.9,545.6 1041.4,546.5 1046.9,548.2 1052.5,547 1058,545.5 1063.5,552.8 1069,549.5 1074.6,550.8 1080.1,553 1085.6,555.1 1091.1,557 1096.7,559.5 1102.2,558.9 1107.7,554.6 1113.2,541.3 1118.8,531.7 1124.3,530.1 1129.8,531.8 1135.3,532.8 1140.9,529.4 1146.4,524 1151.9,518.5 1157.4,511.1 1163,500.8 1168.5,495.4 1174,494.7 1179.6,496.9 1185.1,498.5"/>
<polyline fill="none" stroke="#fbc941" stroke-width="1.2" stroke-opacity="0.6" stroke-linejoin="round" points="63.4,482.8 68.9,437.7 74.5,418.4 80,398.1 85.5,342.4 91,328 96.6,316.8 102.1,302.4 107.6,287.5 113.1,282.4 118.7,266.8 124.2,256 129.7,293 135.2,328.8 140.8,351.7 146.3,367 151.8,406.3 157.3,433.9 162.9,457 168.4,463.4 173.9,462.7 179.4,467.4 185,465.4 190.5,484.9 196,530.7 201.5,572.7 207.1,561.2 212.6,547.8 218.1,550.1 223.6,552.9 229.2,550.5 234.7,548 240.2,545.5 245.7,543.5 251.3,564 256.8,566.1 262.3,539.1 267.8,526.7 273.4,524.8 278.9,526.8 284.4,523.4 289.9,498.8 295.5,475.4 301,484.7 306.5,494.8 312,487.7 317.6,478.1 323.1,478.7 328.6,473.6 334.1,445.3 339.7,452.9 345.2,460.7 350.7,454.7 356.3,470.6 361.8,498.1 367.3,480.1 372.8,472.6 378.4,468.7 383.9,476.2 389.4,478.4 394.9,484.6 400.5,493.4 406,489.1 411.5,482.8 417,486.1 422.6,478.9 428.1,446 433.6,461.8 439.1,462.8 444.7,463.4 450.2,457.4 455.7,454.2 461.2,453.4 466.8,448.8 472.3,456.6 477.8,461.5 483.3,429.5 488.9,413.1 494.4,417.4 499.9,415.4 505.4,419.7 511,425.3 516.5,431.1 522,424.7 527.5,417.1 533.1,424 538.6,424.1 544.1,430.9 549.6,462.4 555.2,481.5 560.7,480.8 566.2,486.2 571.7,485.5 577.3,483.6 582.8,482.2 588.3,485.1 593.8,488.2 599.4,486.2 604.9,489.3 610.4,496.2 615.9,494.9 621.5,494.2 627,494.2 632.5,488.2 638.1,489.5 643.6,487.9 649.1,484.2 654.6,484.8 660.2,485.5 665.7,482.7 671.2,476.6 676.7,471.5 682.3,473.5 687.8,471 693.3,470.4 698.8,468.8 704.4,466.2 709.9,471.9 715.4,476.5 720.9,479.1 726.5,480.8 732,479.3 737.5,476.5 743,471.2 748.6,460.8 754.1,460.5 759.6,457.5 765.1,463.6 770.7,468.2 776.2,465.5 781.7,463.6 787.2,460.2 792.8,452.8 798.3,453.5 803.8,451 809.3,446.3 814.9,434.1 820.4,435.3 825.9,444.2 831.4,436.5 837,434.1 842.5,433.5 848,434.7 853.5,436.8 859.1,434.2 864.6,438.1 870.1,444.2 875.6,454.5 881.2,471.4 886.7,476.1 892.2,472.3 897.8,471.4 903.3,472.9 908.8,473.4 914.3,470.5 919.9,470 925.4,476.1 930.9,471.7 936.4,470.7 942,476.1 947.5,469.6 953,460.3 958.5,454.2 964.1,446.3 969.6,442.2 975.1,446.7 980.6,452.2 986.2,455.8 991.7,462 997.2,460 1002.7,460.8 1008.3,459 1013.8,459.7 1019.3,462.5 1024.8,469.1 1030.4,477 1035.9,483.4 1041.4,485.3 1046.9,488 1052.5,486.9 1058,484.7 1063.5,493.4 1069,490.7 1074.6,493.9 1080.1,497.5 1085.6,500.8 1091.1,503.5 1096.7,506.7 1102.2,506.2 1107.7,501.3 1113.2,487.3 1118.8,479.5 1124.3,478.7 1129.8,479.8 1135.3,480.7 1140.9,476.8 1146.4,469.1 1151.9,463.3 1157.4,456.8 1163,445.6 1168.5,438.8 1174,437.4 1179.6,440.8 1185.1,441.4"/>
<polyline fill="none" stroke="#5f7fc2" stroke-width="1.2" stroke-opacity="0.6" stroke-linejoin="round" points="63.4,386.9 68.9,345.3 74.5,326.4 80,307.1 85.5,252.5 91,231.9 96.6,217.9 102.1,205.4 107.6,194.3 113.1,188 118.7,168.9 124.2,161.4 129.7,189.4 135.2,233 140.8,254.1 146.3,265.6 151.8,295.4 157.3,332.8 162.9,358.4 168.4,365.5 173.9,367.4 179.4,370 185,368.7 190.5,378.2 196,412.6 201.5,472.7 207.1,463.2 212.6,450 218.1,454.7 223.6,459.4 229.2,458.1 234.7,456.7 240.2,455.9 245.7,455.3 251.3,472.7 256.8,479.4 262.3,458 267.8,446.3 273.4,444.8 278.9,446.8 284.4,443.9 289.9,422.1 295.5,399.4 301,408.1 306.5,417.5 312,413.3 317.6,402.8 323.1,404.1 328.6,397 334.1,371.4 339.7,379 345.2,388.7 350.7,382.1 356.3,397.9 361.8,428.2 367.3,410.8 372.8,403.2 378.4,400.1 383.9,407.7 389.4,411.5 394.9,418.6 400.5,429.5 406,426.3 411.5,420.8 417,425.5 422.6,418 428.1,385.4 433.6,400.6 439.1,403 444.7,406.2 450.2,400.1 455.7,397 461.2,395 466.8,394.1 472.3,402.4 477.8,404.8 483.3,374.3 488.9,360.7 494.4,365.4 499.9,365.4 505.4,370.3 511,375.9 516.5,380.8 522,374.7 527.5,368.1 533.1,374.6 538.6,375.3 544.1,381.2 549.6,413 555.2,432.8 560.7,431.8 566.2,436.1 571.7,435.4 577.3,433.9 582.8,432.7 588.3,434.1 593.8,436.1 599.4,434.1 604.9,436.5 610.4,442.1 615.9,440.8 621.5,439.7 627,438.9 632.5,436.1 638.1,436.7 643.6,434.9 649.1,432.8 654.6,433.1 660.2,433.4 665.7,430.6 671.2,424.5 676.7,421.4 682.3,422.1 687.8,420.2 693.3,419.4 698.8,418.7 704.4,416.7 709.9,421.4 715.4,428.8 720.9,432.3 726.5,434.1 732,433.1 737.5,429.4 743,423.3 748.6,415.4 754.1,413.1 759.6,409.4 765.1,414.9 770.7,418.1 776.2,416.5 781.7,414.8 787.2,411.8 792.8,406 798.3,406.7 803.8,403.6 809.3,397.6 814.9,387.8 820.4,384.7 825.9,393.4 831.4,385.7 837,383.4 842.5,382 848,385.8 853.5,388.1 859.1,386.1 864.6,389.4 870.1,393.1 875.6,402.3 881.2,417 886.7,420.8 892.2,415.9 897.8,414.8 903.3,416.3 908.8,417.4 914.3,416.8 919.9,417.3 925.4,422.1 930.9,420.9 936.4,420.1 942,425.5 947.5,419.8 953,411.7 958.5,406.2 964.1,400.4 969.6,395.4 975.1,399.9 980.6,405.9 986.2,410.7 991.7,414.8 997.2,415.7 1002.7,416.8 1008.3,416.7 1013.8,417.9 1019.3,419.8 1024.8,427 1030.4,435.9 1035.9,442 1041.4,444.4 1046.9,445.5 1052.5,443.8 1058,441.5 1063.5,446.1 1069,442.1 1074.6,445.3 1080.1,448.5 1085.6,451.3 1091.1,453.6 1096.7,456.4 1102.2,456.8 1107.7,452.6 1113.2,439.3 1118.8,430.3 1124.3,429.4 1129.8,431.1 1135.3,431.4 1140.9,427.8 1146.4,421.2 1151.9,415.2 1157.4,405.9 1163,394.8 1168.5,388.7 1174,387.3 1179.6,386 1185.1,384.8"/>
</g>
<g id="axes" stroke="#2b2b2b" fill="none">
<g stroke-width="2.6"><line x1="55" x2="67.8" y1="15.5" y2="15.5"/><line x1="55" x2="67.8" y1="154.9" y2="154.9"/><line x1="55" x2="67.8" y1="294.3" y2="294.3"/><line x1="55" x2="67.8" y1="433.7" y2="433.7"/><line x1="55" x2="67.8" y1="573.1" y2="573.1"/><line x1="55" x2="67.8" y1="712.5" y2="712.5"/></g>
<g stroke-width="2.4"><line x1="60.6" x2="60.6" y1="712" y2="719"/><line x1="126.9" x2="126.9" y1="712" y2="719"/><line x1="193.3" x2="193.3" y1="712" y2="719"/><line x1="259.6" x2="259.6" y1="712" y2="719"/><line x1="325.9" x2="325.9" y1="712" y2="719"/><line x1="392.2" x2="392.2" y1="712" y2="719"/><line x1="458.6" x2="458.6" y1="712" y2="719"/><line x1="524.9" x2="524.9" y1="712" y2="719"/><line x1="591.2" x2="591.2" y1="712" y2="719"/><line x1="657.6" x2="657.6" y1="712" y2="719"/><line x1="723.9" x2="723.9" y1="712" y2="719"/><line x1="790.2" x2="790.2" y1="712" y2="719"/><line x1="856.6" x2="856.6" y1="712" y2="719"/><line x1="922.9" x2="922.9" y1="712" y2="719"/><line x1="989.2" x2="989.2" y1="712" y2="719"/><line x1="1055.5" x2="1055.5" y1="712" y2="719"/><line x1="1121.9" x2="1121.9" y1="712" y2="719"/><line x1="1188.2" x2="1188.2" y1="712" y2="719"/></g>
<line x1="60.6" x2="60.6" y1="14.3" y2="714" stroke-width="2.3"/>
<line x1="55" x2="1194.7" y1="712.7" y2="712.7" stroke-width="2.9"/>
</g>
<g id="series">
<path d="M62.6,275.6 L60.9,301 L60.7,350" fill="none" stroke="url(#leadg)" stroke-width="2.9" stroke-linejoin="round"/>
<polyline fill="none" stroke="#275f96" stroke-width="3.2" stroke-linejoin="round" stroke-linecap="round" points="62.6,275.6 68.9,233.1 74.5,224.5 80,208.6 85.5,150.7 91,133.4 96.6,119.1 102.1,109.4 107.6,104.7 113.1,120.1 118.7,111.6 124.2,118.1 129.7,159.1 135.2,197.1 140.8,214.5 146.3,225.5 151.8,267.1 157.3,285.4 162.9,314.8 168.4,311.1 173.9,303.7 179.4,312.8 185,310.8 190.5,328.2 196,380.7 201.5,434.8 207.1,424.8 212.6,408.8 218.1,417.5 223.6,424.5 229.2,424.5 234.7,429.1 240.2,429.1 245.7,421.7 251.3,433.5 256.8,422.1 262.3,385.1 267.8,374.7 273.4,371.6 278.9,379.4 284.4,375 289.9,343.9 295.5,318.1 301,323.7 306.5,338.8 312,334.8 317.6,331.8 323.1,340.8 328.6,342.9 334.1,313.8 339.7,320.4 345.2,329.7 350.7,320.7 356.3,339.7 361.8,379.5 367.3,360.8 372.8,361.1 378.4,356.4 383.9,369.5 389.4,376.4 394.9,388.2 400.5,399.1 406,390.8 411.5,383.5 417,389.5 422.6,379.5 428.1,335 433.6,355.4 439.1,346.8 444.7,340.7 450.2,321 455.7,306.7 461.2,306.9 466.8,300.5 472.3,311.1 477.8,319.7 483.3,287.1 488.9,275.5 494.4,284.4 499.9,278.4 505.4,282.8 511,289.8 516.5,299.8 522,299.8 527.5,282.8 533.1,290.8 538.6,292.4 544.1,295.4 549.6,332.4 555.2,357 560.7,353.4 566.2,359.4 571.7,357.8 577.3,357.8 582.8,360.7 588.3,372.1 593.8,387.5 599.4,390.5 604.9,397.9 610.4,406.4 615.9,404.4 621.5,408.8 627,408.8 632.5,404.4 638.1,412.2 643.6,410.2 649.1,408.8 654.6,407.5 660.2,400.6 665.7,396.4 671.2,380.8 676.7,372.4 682.3,367.8 687.8,359.1 693.3,361.1 698.8,356.7 704.4,350.5 709.9,357.8 715.4,361.4 720.9,355 726.5,352.5 732,346.5 737.5,346.4 743,345.1 748.6,339.1 754.1,339.8 759.6,334.7 765.1,341.8 770.7,347.1 776.2,341.8 781.7,346.7 787.2,347.1 792.8,341.8 798.3,347.1 803.8,338.1 809.3,322.4 814.9,299.3 820.4,302.1 825.9,322.4 831.4,320.4 837,323.4 842.5,326.4 848,329.4 853.5,333.8 859.1,329.1 864.6,337.8 870.1,349.3 875.6,360.6 881.2,383 886.7,381.7 892.2,366.4 897.8,358 903.3,352.1 908.8,352.3 914.3,350.8 919.9,346.1 925.4,355.5 930.9,348.1 936.4,348.1 942,356.8 947.5,349.7 953,340.7 958.5,339.4 964.1,333.4 969.6,326.5 975.1,331 980.6,338.1 986.2,347.7 991.7,361.1 997.2,362.4 1002.7,363.7 1008.3,360.8 1013.8,360.8 1019.3,362.1 1024.8,366.4 1030.4,379.5 1035.9,388.2 1041.4,389 1046.9,390.7 1052.5,383.5 1058,373.5 1063.5,376.4 1069,368.1 1074.6,369.1 1080.1,373.6 1085.6,379.1 1091.1,379.1 1096.7,381.9 1102.2,381.9 1107.7,373.6 1113.2,355.1 1118.8,346.4 1124.3,339.4 1129.8,342.4 1135.3,349.5 1140.9,349.5 1146.4,339.5 1151.9,333.8 1157.4,327.9 1163,319.1 1168.5,317.9 1174,324.1 1179.6,320.6 1185.1,329.6"/>
<g fill="#275f96"><circle cx="62.6" cy="275.6" r="4.2"/><circle cx="68.9" cy="233.1" r="4.2"/><circle cx="74.5" cy="224.5" r="4.2"/><circle cx="80" cy="208.6" r="4.2"/><circle cx="85.5" cy="150.7" r="4.2"/><circle cx="91" cy="133.4" r="4.2"/><circle cx="96.6" cy="119.1" r="4.2"/><circle cx="102.1" cy="109.4" r="4.2"/><circle cx="107.6" cy="104.7" r="4.2"/><circle cx="113.1" cy="120.1" r="4.2"/><circle cx="118.7" cy="111.6" r="4.2"/><circle cx="124.2" cy="118.1" r="4.2"/><circle cx="129.7" cy="159.1" r="4.2"/><circle cx="135.2" cy="197.1" r="4.2"/><circle cx="140.8" cy="214.5" r="4.2"/><circle cx="146.3" cy="225.5" r="4.2"/><circle cx="151.8" cy="267.1" r="4.2"/><circle cx="157.3" cy="285.4" r="4.2"/><circle cx="162.9" cy="314.8" r="4.2"/><circle cx="168.4" cy="311.1" r="4.2"/><circle cx="173.9" cy="303.7" r="4.2"/><circle cx="179.4" cy="312.8" r="4.2"/><circle cx="185" cy="310.8" r="4.2"/><circle cx="190.5" cy="328.2" r="4.2"/><circle cx="196" cy="380.7" r="4.2"/><circle cx="201.5" cy="434.8" r="4.2"/><circle cx="207.1" cy="424.8" r="4.2"/><circle cx="212.6" cy="408.8" r="4.2"/><circle cx="218.1" cy="417.5" r="4.2"/><circle cx="223.6" cy="424.5" r="4.2"/><circle cx="229.2" cy="424.5" r="4.2"/><circle cx="234.7" cy="429.1" r="4.2"/><circle cx="240.2" cy="429.1" r="4.2"/><circle cx="245.7" cy="421.7" r="4.2"/><circle cx="251.3" cy="433.5" r="4.2"/><circle cx="256.8" cy="422.1" r="4.2"/><circle cx="262.3" cy="385.1" r="4.2"/><circle cx="267.8" cy="374.7" r="4.2"/><circle cx="273.4" cy="371.6" r="4.2"/><circle cx="278.9" cy="379.4" r="4.2"/><circle cx="284.4" cy="375" r="4.2"/><circle cx="289.9" cy="343.9" r="4.2"/><circle cx="295.5" cy="318.1" r="4.2"/><circle cx="301" cy="323.7" r="4.2"/><circle cx="306.5" cy="338.8" r="4.2"/><circle cx="312" cy="334.8" r="4.2"/><circle cx="317.6" cy="331.8" r="4.2"/><circle cx="323.1" cy="340.8" r="4.2"/><circle cx="328.6" cy="342.9" r="4.2"/><circle cx="334.1" cy="313.8" r="4.2"/><circle cx="339.7" cy="320.4" r="4.2"/><circle cx="345.2" cy="329.7" r="4.2"/><circle cx="350.7" cy="320.7" r="4.2"/><circle cx="356.3" cy="339.7" r="4.2"/><circle cx="361.8" cy="379.5" r="4.2"/><circle cx="367.3" cy="360.8" r="4.2"/><circle cx="372.8" cy="361.1" r="4.2"/><circle cx="378.4" cy="356.4" r="4.2"/><circle cx="383.9" cy="369.5" r="4.2"/><circle cx="389.4" cy="376.4" r="4.2"/><circle cx="394.9" cy="388.2" r="4.2"/><circle cx="400.5" cy="399.1" r="4.2"/><circle cx="406" cy="390.8" r="4.2"/><circle cx="411.5" cy="383.5" r="4.2"/><circle cx="417" cy="389.5" r="4.2"/><circle cx="422.6" cy="379.5" r="4.2"/><circle cx="428.1" cy="335" r="4.2"/><circle cx="433.6" cy="355.4" r="4.2"/><circle cx="439.1" cy="346.8" r="4.2"/><circle cx="444.7" cy="340.7" r="4.2"/><circle cx="450.2" cy="321" r="4.2"/><circle cx="455.7" cy="306.7" r="4.2"/><circle cx="461.2" cy="306.9" r="4.2"/><circle cx="466.8" cy="300.5" r="4.2"/><circle cx="472.3" cy="311.1" r="4.2"/><circle cx="477.8" cy="319.7" r="4.2"/><circle cx="483.3" cy="287.1" r="4.2"/><circle cx="488.9" cy="275.5" r="4.2"/><circle cx="494.4" cy="284.4" r="4.2"/><circle cx="499.9" cy="278.4" r="4.2"/><circle cx="505.4" cy="282.8" r="4.2"/><circle cx="511" cy="289.8" r="4.2"/><circle cx="516.5" cy="299.8" r="4.2"/><circle cx="522" cy="299.8" r="4.2"/><circle cx="527.5" cy="282.8" r="4.2"/><circle cx="533.1" cy="290.8" r="4.2"/><circle cx="538.6" cy="292.4" r="4.2"/><circle cx="544.1" cy="295.4" r="4.2"/><circle cx="549.6" cy="332.4" r="4.2"/><circle cx="555.2" cy="357" r="4.2"/><circle cx="560.7" cy="353.4" r="4.2"/><circle cx="566.2" cy="359.4" r="4.2"/><circle cx="571.7" cy="357.8" r="4.2"/><circle cx="577.3" cy="357.8" r="4.2"/><circle cx="582.8" cy="360.7" r="4.2"/><circle cx="588.3" cy="372.1" r="4.2"/><circle cx="593.8" cy="387.5" r="4.2"/><circle cx="599.4" cy="390.5" r="4.2"/><circle cx="604.9" cy="397.9" r="4.2"/><circle cx="610.4" cy="406.4" r="4.2"/><circle cx="615.9" cy="404.4" r="4.2"/><circle cx="621.5" cy="408.8" r="4.2"/><circle cx="627" cy="408.8" r="4.2"/><circle cx="632.5" cy="404.4" r="4.2"/><circle cx="638.1" cy="412.2" r="4.2"/><circle cx="643.6" cy="410.2" r="4.2"/><circle cx="649.1" cy="408.8" r="4.2"/><circle cx="654.6" cy="407.5" r="4.2"/><circle cx="660.2" cy="400.6" r="4.2"/><circle cx="665.7" cy="396.4" r="4.2"/><circle cx="671.2" cy="380.8" r="4.2"/><circle cx="676.7" cy="372.4" r="4.2"/><circle cx="682.3" cy="367.8" r="4.2"/><circle cx="687.8" cy="359.1" r="4.2"/><circle cx="693.3" cy="361.1" r="4.2"/><circle cx="698.8" cy="356.7" r="4.2"/><circle cx="704.4" cy="350.5" r="4.2"/><circle cx="709.9" cy="357.8" r="4.2"/><circle cx="715.4" cy="361.4" r="4.2"/><circle cx="720.9" cy="355" r="4.2"/><circle cx="726.5" cy="352.5" r="4.2"/><circle cx="732" cy="346.5" r="4.2"/><circle cx="737.5" cy="346.4" r="4.2"/><circle cx="743" cy="345.1" r="4.2"/><circle cx="748.6" cy="339.1" r="4.2"/><circle cx="754.1" cy="339.8" r="4.2"/><circle cx="759.6" cy="334.7" r="4.2"/><circle cx="765.1" cy="341.8" r="4.2"/><circle cx="770.7" cy="347.1" r="4.2"/><circle cx="776.2" cy="341.8" r="4.2"/><circle cx="781.7" cy="346.7" r="4.2"/><circle cx="787.2" cy="347.1" r="4.2"/><circle cx="792.8" cy="341.8" r="4.2"/><circle cx="798.3" cy="347.1" r="4.2"/><circle cx="803.8" cy="338.1" r="4.2"/><circle cx="809.3" cy="322.4" r="4.2"/><circle cx="814.9" cy="299.3" r="4.2"/><circle cx="820.4" cy="302.1" r="4.2"/><circle cx="825.9" cy="322.4" r="4.2"/><circle cx="831.4" cy="320.4" r="4.2"/><circle cx="837" cy="323.4" r="4.2"/><circle cx="842.5" cy="326.4" r="4.2"/><circle cx="848" cy="329.4" r="4.2"/><circle cx="853.5" cy="333.8" r="4.2"/><circle cx="859.1" cy="329.1" r="4.2"/><circle cx="864.6" cy="337.8" r="4.2"/><circle cx="870.1" cy="349.3" r="4.2"/><circle cx="875.6" cy="360.6" r="4.2"/><circle cx="881.2" cy="383" r="4.2"/><circle cx="886.7" cy="381.7" r="4.2"/><circle cx="892.2" cy="366.4" r="4.2"/><circle cx="897.8" cy="358" r="4.2"/><circle cx="903.3" cy="352.1" r="4.2"/><circle cx="908.8" cy="352.3" r="4.2"/><circle cx="914.3" cy="350.8" r="4.2"/><circle cx="919.9" cy="346.1" r="4.2"/><circle cx="925.4" cy="355.5" r="4.2"/><circle cx="930.9" cy="348.1" r="4.2"/><circle cx="936.4" cy="348.1" r="4.2"/><circle cx="942" cy="356.8" r="4.2"/><circle cx="947.5" cy="349.7" r="4.2"/><circle cx="953" cy="340.7" r="4.2"/><circle cx="958.5" cy="339.4" r="4.2"/><circle cx="964.1" cy="333.4" r="4.2"/><circle cx="969.6" cy="326.5" r="4.2"/><circle cx="975.1" cy="331" r="4.2"/><circle cx="980.6" cy="338.1" r="4.2"/><circle cx="986.2" cy="347.7" r="4.2"/><circle cx="991.7" cy="361.1" r="4.2"/><circle cx="997.2" cy="362.4" r="4.2"/><circle cx="1002.7" cy="363.7" r="4.2"/><circle cx="1008.3" cy="360.8" r="4.2"/><circle cx="1013.8" cy="360.8" r="4.2"/><circle cx="1019.3" cy="362.1" r="4.2"/><circle cx="1024.8" cy="366.4" r="4.2"/><circle cx="1030.4" cy="379.5" r="4.2"/><circle cx="1035.9" cy="388.2" r="4.2"/><circle cx="1041.4" cy="389" r="4.2"/><circle cx="1046.9" cy="390.7" r="4.2"/><circle cx="1052.5" cy="383.5" r="4.2"/><circle cx="1058" cy="373.5" r="4.2"/><circle cx="1063.5" cy="376.4" r="4.2"/><circle cx="1069" cy="368.1" r="4.2"/><circle cx="1074.6" cy="369.1" r="4.2"/><circle cx="1080.1" cy="373.6" r="4.2"/><circle cx="1085.6" cy="379.1" r="4.2"/><circle cx="1091.1" cy="379.1" r="4.2"/><circle cx="1096.7" cy="381.9" r="4.2"/><circle cx="1102.2" cy="381.9" r="4.2"/><circle cx="1107.7" cy="373.6" r="4.2"/><circle cx="1113.2" cy="355.1" r="4.2"/><circle cx="1118.8" cy="346.4" r="4.2"/><circle cx="1124.3" cy="339.4" r="4.2"/><circle cx="1129.8" cy="342.4" r="4.2"/><circle cx="1135.3" cy="349.5" r="4.2"/><circle cx="1140.9" cy="349.5" r="4.2"/><circle cx="1146.4" cy="339.5" r="4.2"/><circle cx="1151.9" cy="333.8" r="4.2"/><circle cx="1157.4" cy="327.9" r="4.2"/><circle cx="1163" cy="319.1" r="4.2"/><circle cx="1168.5" cy="317.9" r="4.2"/><circle cx="1174" cy="324.1" r="4.2"/><circle cx="1179.6" cy="320.6" r="4.2"/><circle cx="1185.1" cy="329.6" r="4.2"/></g>
</g>
<g class="num"><text transform="translate(45.5,19.9) scale(0.935,1)" text-anchor="end">250</text><text transform="translate(45.5,159.3) scale(0.935,1)" text-anchor="end">200</text><text transform="translate(45.5,298.7) scale(0.935,1)" text-anchor="end">150</text><text transform="translate(45.5,438.1) scale(0.935,1)" text-anchor="end">100</text><text transform="translate(45.5,577.5) scale(0.935,1)" text-anchor="end">50</text><text transform="translate(45.5,716.9) scale(0.935,1)" text-anchor="end">0</text></g>
<g class="xl"><text transform="translate(68,736.1) scale(0.925,1) rotate(-45)" text-anchor="end">2008-12</text><text transform="translate(134.3,736.1) scale(0.925,1) rotate(-45)" text-anchor="end">2009-12</text><text transform="translate(200.7,736.1) scale(0.925,1) rotate(-45)" text-anchor="end">2010-12</text><text transform="translate(267,736.1) scale(0.925,1) rotate(-45)" text-anchor="end">2011-12</text><text transform="translate(333.3,736.1) scale(0.925,1) rotate(-45)" text-anchor="end">2012-12</text><text transform="translate(399.6,736.1) scale(0.925,1) rotate(-45)" text-anchor="end">2013-12</text><text transform="translate(466,736.1) scale(0.925,1) rotate(-45)" text-anchor="end">2014-12</text><text transform="translate(532.3,736.1) scale(0.925,1) rotate(-45)" text-anchor="end">2015-12</text><text transform="translate(598.6,736.1) scale(0.925,1) rotate(-45)" text-anchor="end">2016-12</text><text transform="translate(665,736.1) scale(0.925,1) rotate(-45)" text-anchor="end">2017-12</text><text transform="translate(731.3,736.1) scale(0.925,1) rotate(-45)" text-anchor="end">2018-12</text><text transform="translate(797.6,736.1) scale(0.925,1) rotate(-45)" text-anchor="end">2019-12</text><text transform="translate(864,736.1) scale(0.925,1) rotate(-45)" text-anchor="end">2020-12</text><text transform="translate(930.3,736.1) scale(0.925,1) rotate(-45)" text-anchor="end">2021-12</text><text transform="translate(996.6,736.1) scale(0.925,1) rotate(-45)" text-anchor="end">2022-12</text><text transform="translate(1063,736.1) scale(0.925,1) rotate(-45)" text-anchor="end">2023-12</text><text transform="translate(1129.3,736.1) scale(0.925,1) rotate(-45)" text-anchor="end">2024-12</text><text transform="translate(1195.6,736.1) scale(0.925,1) rotate(-45)" text-anchor="end">2025-12</text></g>
<g class="lg">
<g><rect x="1197" y="134.4" width="25.6" height="9" fill="#80bf60"/><rect x="1197" y="136.6" width="25.6" height="1.1" fill="#d3edbe"/><rect x="1197" y="140.1" width="25.6" height="1.1" fill="#d3edbe"/><text transform="translate(1226,146.2) scale(0.937,1)">债券市场金融指标<tspan letter-spacing="0.9">（8个）</tspan></text></g>
<g><rect x="1197" y="216.8" width="25.6" height="9" fill="#5f7fc2"/><rect x="1197" y="219" width="25.6" height="1.1" fill="#b9ccf4"/><rect x="1197" y="222.5" width="25.6" height="1.1" fill="#b9ccf4"/><text transform="translate(1226,228.6) scale(0.937,1)">非传统银行金融市场指标<tspan letter-spacing="0.9">（8个）</tspan></text></g>
<g><rect x="1197" y="298.2" width="25.6" height="9" fill="#fbc941"/><rect x="1197" y="300.4" width="25.6" height="1.1" fill="#feeaa8"/><rect x="1197" y="303.9" width="25.6" height="1.1" fill="#feeaa8"/><text transform="translate(1226,310) scale(0.937,1)">银行与信贷金融市场<tspan letter-spacing="0.9">（8个）</tspan></text></g>
<g><rect x="1197" y="379.9" width="25.6" height="9" fill="#adadb1"/><rect x="1197" y="382.1" width="25.6" height="1.1" fill="#e4e4e7"/><rect x="1197" y="385.6" width="25.6" height="1.1" fill="#e4e4e7"/><text transform="translate(1226,391.7) scale(0.937,1)">货币与同业市场金融指标<tspan letter-spacing="0.9">（8个）</tspan></text></g>
<g><rect x="1197" y="461.6" width="25.6" height="9" fill="#ef9050"/><rect x="1197" y="463.8" width="25.6" height="1.1" fill="#fcd5b0"/><rect x="1197" y="467.3" width="25.6" height="1.1" fill="#fcd5b0"/><text transform="translate(1226,473.4) scale(0.937,1)">宏观杠杆金融指标<tspan letter-spacing="0.9">（8个）</tspan></text></g>
<g><rect x="1197" y="543.4" width="25.6" height="9" fill="#64a2df"/><rect x="1197" y="545.6" width="25.6" height="1.1" fill="#c5e2fa"/><rect x="1197" y="549.1" width="25.6" height="1.1" fill="#c5e2fa"/><text transform="translate(1226,555.2) scale(0.937,1)">股票市场金融指标<tspan letter-spacing="0.9">（8个）</tspan></text></g>
<g><line x1="1195.8" x2="1223.8" y1="628.7" y2="628.7" stroke="#275f96" stroke-width="4.1"/><circle cx="1209" cy="628.7" r="4.2" fill="#275f96"/><text transform="translate(1226,636.1) scale(0.937,1)">总指数</text></g>
</g>
<g id="footer">
<rect x="0" y="798.6" width="1497" height="2.4" fill="#3a3a3a"/>
<polygon points="28,798 30.5,801 54.5,801 57,798" fill="#fff"/>
</g>
</svg>
</body>
</html>
